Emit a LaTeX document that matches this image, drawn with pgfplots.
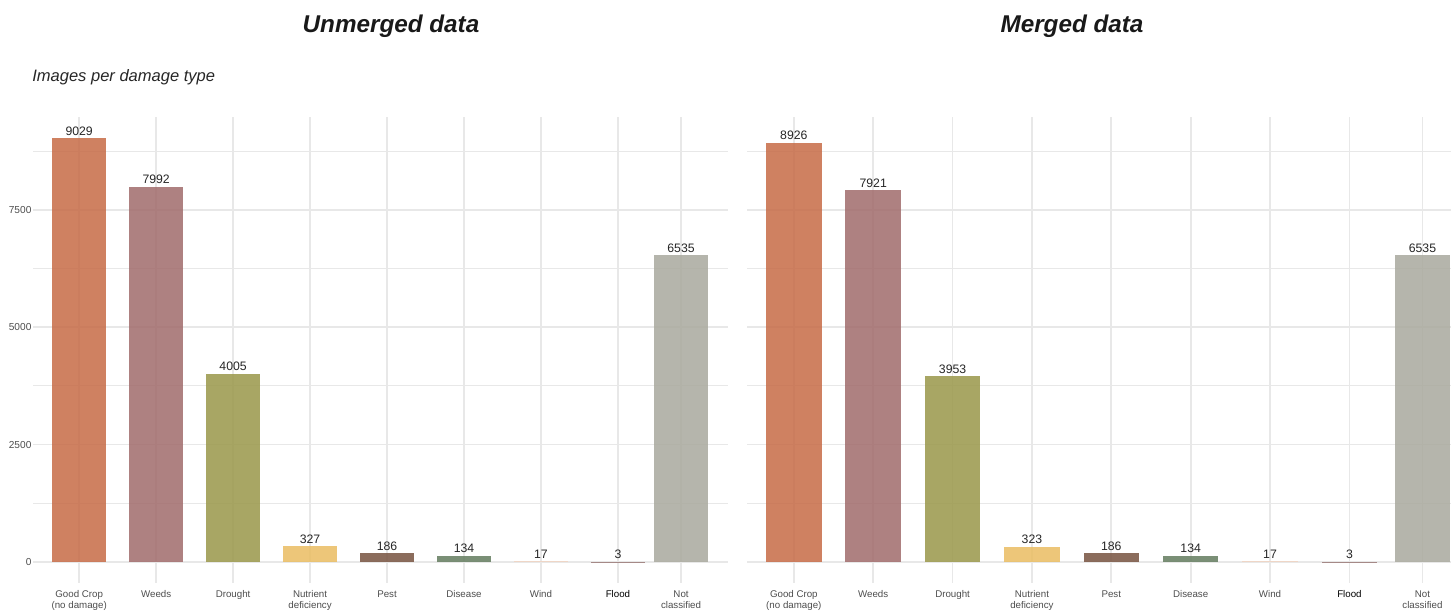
\documentclass[border=0pt]{standalone}
\usepackage{fontspec}
\setmainfont{Liberation Sans}
\usepackage{pgfplots}
\pgfplotsset{compat=1.18}
\definecolor{gridc}{HTML}{E8E8E8}
\definecolor{tickc}{HTML}{4D4D4D}
\definecolor{cGood}{RGB}{200,111,75}
\definecolor{cWeeds}{RGB}{163,111,111}
\definecolor{cDrought}{RGB}{156,154,79}
\definecolor{cNutr}{RGB}{234,190,102}
\definecolor{cPest}{RGB}{123,88,70}
\definecolor{cDis}{RGB}{104,128,99}
\definecolor{cWind}{RGB}{241,212,194}
\definecolor{cFlood}{RGB}{156,124,122}
\definecolor{cNot}{RGB}{171,171,160}
\pgfplotsset{
  panel/.style={
    scale only axis, height=349.5pt, ymin=-451, ymax=9480,
    ybar, bar width=0.7, bar shift=0pt,
    axis line style={draw=none}, major tick length=0pt, minor tick length=0pt,
    ytick={0,2500,5000,7500}, minor ytick={1250,3750,6250,8750},
    ymajorgrids, yminorgrids, xmajorgrids,
    major grid style={line width=1.25pt, color=gridc},
    minor grid style={line width=0.7pt, color=gridc},
    /pgf/number format/1000 sep={},
    /pgf/number format/assume math mode=true,
    nodes near coords,
    nodes near coords style={font=\fontsize{9.2}{11}\selectfont, text=black!85, anchor=south, inner sep=2pt},
    xticklabel style={font=\fontsize{7.3}{8.6}\selectfont, align=center, text=tickc, anchor=north, yshift=-2pt},
    yticklabel style={font=\fontsize{7.6}{9}\selectfont, text=tickc, inner sep=1pt},
    xticklabels={{Good Crop\\(no damage)},Weeds,Drought,{Nutrient\\deficiency},Pest,Disease,Wind,{\color{black}Flood},{Not\\classified}},
    every axis plot/.append style={draw=none, fill opacity=0.88, text opacity=1},
    clip=false,
  }
}
\begin{document}
\begin{tikzpicture}[x=0.75pt,y=0.75pt]
\path[use as bounding box] (0,0) rectangle (1451,611);
\begin{axis}[panel, at={(24.75pt,21pt)}, anchor=south west, width=521.25pt,
  xmin=-0.6, xmax=8.43, xtick={0,1,2,3,4,5,6,7,7.82}]
\addplot[fill=cGood] coordinates {(0,9029)};
\addplot[fill=cWeeds] coordinates {(1,7992)};
\addplot[fill=cDrought] coordinates {(2,4005)};
\addplot[fill=cNutr] coordinates {(3,327)};
\addplot[fill=cPest] coordinates {(4,186)};
\addplot[fill=cDis] coordinates {(5,134)};
\addplot[fill=cWind] coordinates {(6,17)};
\addplot[fill=cFlood] coordinates {(7,3)};
\addplot[fill=cNot] coordinates {(7.82,6535)};
\end{axis}
\begin{axis}[panel, at={(560.25pt,21pt)}, anchor=south west, width=528pt,
  xmin=-0.59, xmax=8.28, xtick={0,1,2,3,4,5,6,7,7.92}, yticklabels={}]
\addplot[fill=cGood] coordinates {(0,8926)};
\addplot[fill=cWeeds] coordinates {(1,7921)};
\addplot[fill=cDrought] coordinates {(2,3953)};
\addplot[fill=cNutr] coordinates {(3,323)};
\addplot[fill=cPest] coordinates {(4,186)};
\addplot[fill=cDis] coordinates {(5,134)};
\addplot[fill=cWind] coordinates {(6,17)};
\addplot[fill=cFlood] coordinates {(7,3)};
\addplot[fill=cNot] coordinates {(7.92,6535)};
\end{axis}
\node[font=\bfseries\itshape\fontsize{18.2}{20}\selectfont, text=black!90] at (391,585) {Unmerged data};
\node[font=\bfseries\itshape\fontsize{18.2}{20}\selectfont, text=black!90] at (1072,585) {Merged data};
\node[anchor=west, inner sep=0pt, font=\itshape\fontsize{12.4}{14}\selectfont, text=black!85] at (32,534) {Images per damage type};
\end{tikzpicture}
\end{document}
